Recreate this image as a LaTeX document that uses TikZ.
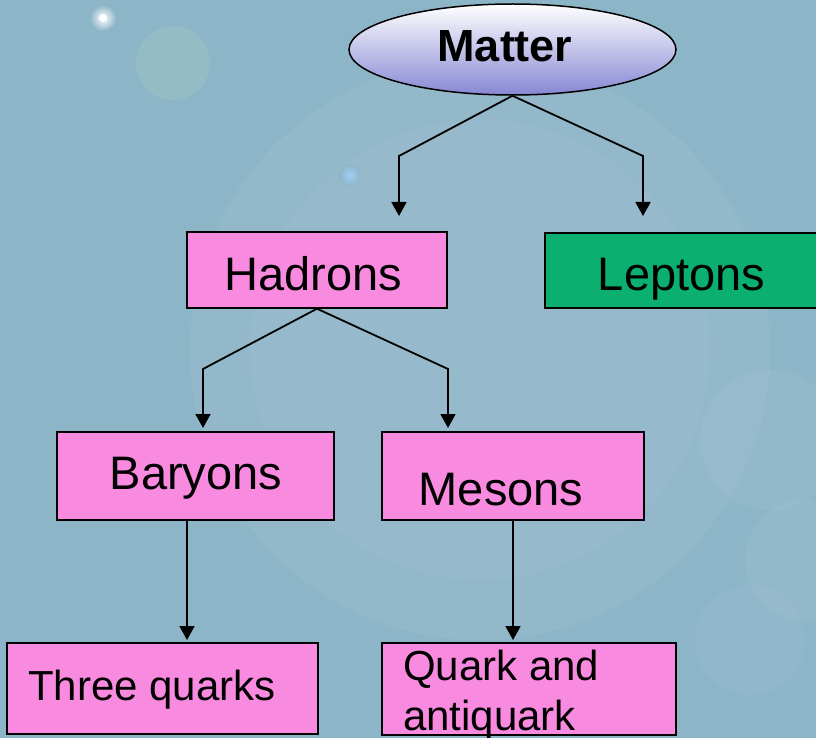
\documentclass[tikz,border=0pt]{standalone}
\usepackage{fontspec}
\setmainfont{Liberation Sans}
\usetikzlibrary{arrows.meta,shapes.geometric,calc}
\definecolor{bgc}{RGB}{141,181,200}
\definecolor{pinkbox}{RGB}{248,138,224}
\definecolor{greenbox}{RGB}{11,176,112}
\definecolor{lav}{RGB}{135,135,212}
\definecolor{glowgreen}{RGB}{158,198,192}
\definecolor{glowblue}{RGB}{160,205,245}
\begin{document}
\begin{tikzpicture}[x=1pt,y=-1pt,
  box/.style={draw=black,line width=1.4pt,inner sep=0pt,rectangle},
  pinkb/.style={box,fill=pinkbox},
  greenb/.style={box,fill=greenbox},
  lbl/.style={inner sep=0pt,anchor=base,font=\fontsize{47}{56}\selectfont},
  lblsmall/.style={inner sep=0pt,anchor=base west,font=\fontsize{42}{50}\selectfont},
  conn/.style={line width=1.8pt,-{Triangle[width=15pt,length=14pt]}}]
\useasboundingbox (0,0) rectangle (816,738);
\clip (0,0) rectangle (816,738);
% background
\fill[bgc] (0,0) rectangle (816,738);
\fill[white,opacity=0.05] (480,350) circle (290pt);
\fill[white,opacity=0.04] (480,350) circle (230pt);
\fill[glowgreen,opacity=0.45] (173,63) circle (37pt);
\shade[inner color=white,outer color=bgc] (103,18) circle (13pt);
\fill[white] (103,18) circle (4pt);
\shade[inner color=glowblue,outer color=bgc] (350,175) circle (11pt);
\fill[white,opacity=0.05] (770,440) circle (70pt);
\fill[white,opacity=0.05] (805,560) circle (60pt);
\fill[white,opacity=0.04] (750,640) circle (55pt);

% nodes
\node[ellipse,draw=black,line width=1.5pt,minimum width=327pt,minimum height=91pt,inner sep=0pt,
      top color=white,middle color=lav!12!white,bottom color=lav] (matter) at (512.5,49.5) {};
\node[inner sep=0pt,anchor=base,font=\bfseries\fontsize{45}{54}\selectfont] (mattert) at (505,62) {Matter};

\node[pinkb,minimum width=260pt,minimum height=76pt] (hadrons) at (317,270) {};
\node[greenb,minimum width=280pt,minimum height=75pt] (leptons) at (685,270.5) {};
\node[pinkb,minimum width=277pt,minimum height=88pt] (baryons) at (195.5,476) {};
\node[pinkb,minimum width=262pt,minimum height=88pt] (mesons) at (513,476) {};
\node[pinkb,minimum width=311pt,minimum height=91pt] (three) at (162.5,688.5) {};
\node[pinkb,minimum width=294pt,minimum height=92pt] (quark) at (529,689) {};

\node[lbl] (hadronst) at (313.5,290) {Hadrons};
\node[lbl] (leptonst) at (681.5,290) {Leptons};
\node[lbl] (baryonst) at (196,489) {Baryons};
\node[lbl] (mesonst) at (501,505) {Mesons};
\node[lblsmall] (threet) at (28,700) {Three quarks};
\node[lblsmall] (quarkt1) at (403,680) {Quark and};
\node[lblsmall] (quarkt2) at (403,730) {antiquark};

% connector coordinates
\coordinate (k1) at (399,156);
\coordinate (e1) at (399,216);
\coordinate (k2) at (643,156);
\coordinate (e2) at (643,216);
\coordinate (k3) at (203,369);
\coordinate (e3) at (203,428);
\coordinate (k4) at (448,369);
\coordinate (e4) at (448,428);
\coordinate (e5) at (187,640);
\coordinate (e6) at (513,640);

\draw[conn] (matter.south) -- (k1) -- (e1);
\draw[conn] (matter.south) -- (k2) -- (e2);
\draw[conn] (hadrons.south) -- (k3) -- (e3);
\draw[conn] (hadrons.south) -- (k4) -- (e4);
\draw[conn] (baryons.south -| e5) -- (e5);
\draw[conn] (mesons.south -| e6) -- (e6);
\end{tikzpicture}
\end{document}
